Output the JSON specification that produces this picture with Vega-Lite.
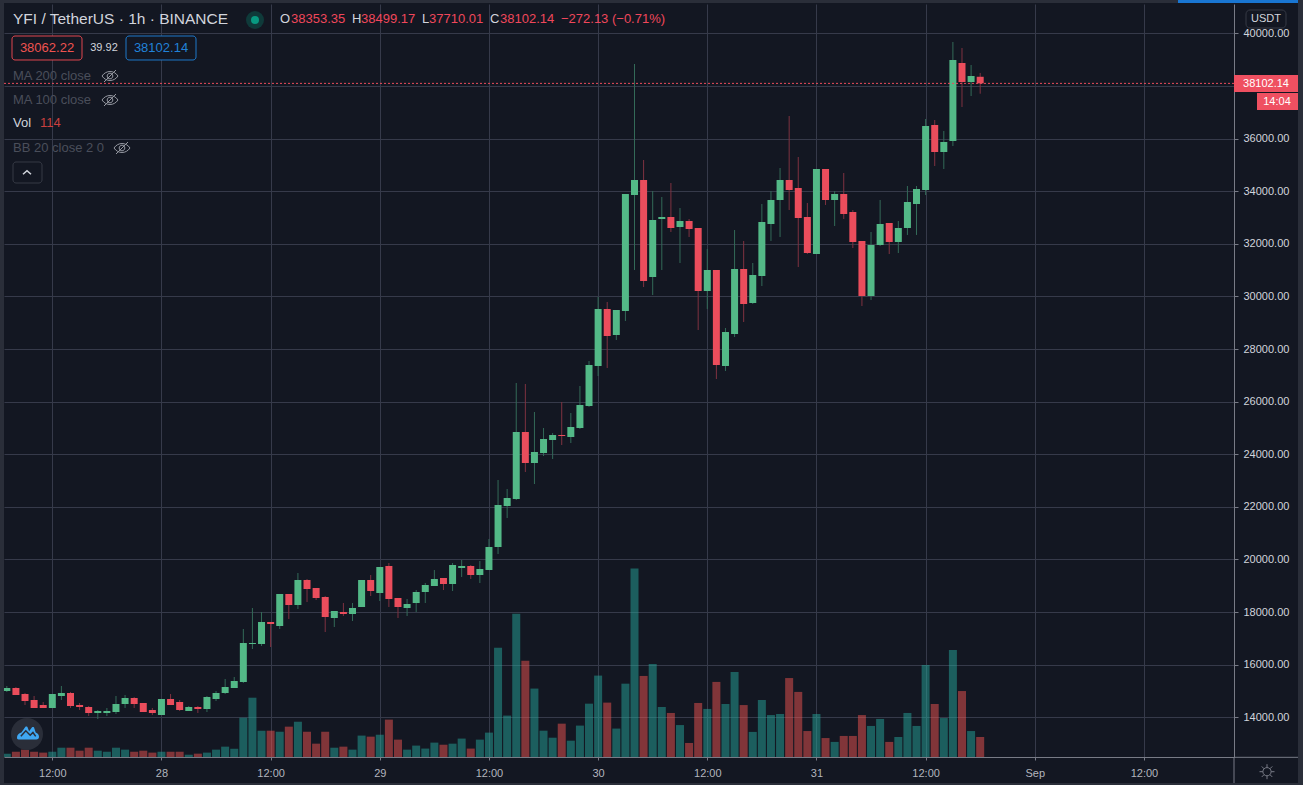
{
  "$schema": "https://vega.github.io/schema/vega-lite/v6.json",
  "width": 1230,
  "height": 753,
  "autosize": {"type": "none"},
  "padding": {"left": 4, "top": 4, "right": 69, "bottom": 28},
  "background": "#131722",
  "config": {
    "view": {"stroke": null},
    "text": {"font": "Liberation Sans"},
    "axis": {"labelFont": "Liberation Sans"}
  },
  "datasets": {
    "candles": [
      {"t":"2020-08-27T07:00:00Z","o":15000,"h":15190,"l":14962,"c":15114,"v":19},
      {"t":"2020-08-27T08:00:00Z","o":15114,"h":15152,"l":14848,"c":14848,"v":30},
      {"t":"2020-08-27T09:00:00Z","o":14886,"h":14924,"l":14468,"c":14620,"v":42},
      {"t":"2020-08-27T10:00:00Z","o":14658,"h":14810,"l":14354,"c":14354,"v":30},
      {"t":"2020-08-27T11:00:00Z","o":14468,"h":14582,"l":14354,"c":14354,"v":25},
      {"t":"2020-08-27T12:00:00Z","o":14354,"h":14886,"l":14354,"c":14886,"v":30},
      {"t":"2020-08-27T13:00:00Z","o":14810,"h":15190,"l":14658,"c":14924,"v":53},
      {"t":"2020-08-27T14:00:00Z","o":14924,"h":14962,"l":14354,"c":14430,"v":53},
      {"t":"2020-08-27T15:00:00Z","o":14468,"h":14544,"l":14278,"c":14392,"v":36},
      {"t":"2020-08-27T16:00:00Z","o":14392,"h":14430,"l":14050,"c":14164,"v":53},
      {"t":"2020-08-27T17:00:00Z","o":14164,"h":14278,"l":13936,"c":14240,"v":36},
      {"t":"2020-08-27T18:00:00Z","o":14164,"h":14354,"l":14050,"c":14240,"v":30},
      {"t":"2020-08-27T19:00:00Z","o":14202,"h":14810,"l":14126,"c":14506,"v":53},
      {"t":"2020-08-27T20:00:00Z","o":14506,"h":14848,"l":14354,"c":14734,"v":42},
      {"t":"2020-08-27T21:00:00Z","o":14734,"h":14772,"l":14354,"c":14506,"v":30},
      {"t":"2020-08-27T22:00:00Z","o":14544,"h":14544,"l":14202,"c":14202,"v":36},
      {"t":"2020-08-27T23:00:00Z","o":14278,"h":14354,"l":14088,"c":14164,"v":25},
      {"t":"2020-08-28T00:00:00Z","o":14088,"h":14696,"l":14088,"c":14696,"v":30},
      {"t":"2020-08-28T01:00:00Z","o":14696,"h":14886,"l":14468,"c":14468,"v":30},
      {"t":"2020-08-28T02:00:00Z","o":14582,"h":14658,"l":14240,"c":14278,"v":30},
      {"t":"2020-08-28T03:00:00Z","o":14240,"h":14430,"l":14240,"c":14392,"v":13},
      {"t":"2020-08-28T04:00:00Z","o":14392,"h":14430,"l":14164,"c":14316,"v":19},
      {"t":"2020-08-28T05:00:00Z","o":14316,"h":14810,"l":14202,"c":14772,"v":25},
      {"t":"2020-08-28T06:00:00Z","o":14696,"h":15000,"l":14620,"c":14924,"v":42},
      {"t":"2020-08-28T07:00:00Z","o":14924,"h":15456,"l":14886,"c":15152,"v":59},
      {"t":"2020-08-28T08:00:00Z","o":15114,"h":15532,"l":15114,"c":15380,"v":47},
      {"t":"2020-08-28T09:00:00Z","o":15342,"h":17357,"l":15304,"c":16825,"v":224},
      {"t":"2020-08-28T10:00:00Z","o":16787,"h":18156,"l":16597,"c":16825,"v":338},
      {"t":"2020-08-28T11:00:00Z","o":16787,"h":18004,"l":16711,"c":17624,"v":150},
      {"t":"2020-08-28T12:00:00Z","o":17624,"h":17624,"l":16673,"c":17548,"v":150},
      {"t":"2020-08-28T13:00:00Z","o":17471,"h":18688,"l":17357,"c":18688,"v":144},
      {"t":"2020-08-28T14:00:00Z","o":18688,"h":18688,"l":17738,"c":18270,"v":173},
      {"t":"2020-08-28T15:00:00Z","o":18270,"h":19487,"l":18118,"c":19220,"v":201},
      {"t":"2020-08-28T16:00:00Z","o":19220,"h":19258,"l":18384,"c":18878,"v":144},
      {"t":"2020-08-28T17:00:00Z","o":18916,"h":18916,"l":18460,"c":18536,"v":76},
      {"t":"2020-08-28T18:00:00Z","o":18574,"h":18612,"l":17243,"c":17814,"v":144},
      {"t":"2020-08-28T19:00:00Z","o":17776,"h":18042,"l":17433,"c":18042,"v":53},
      {"t":"2020-08-28T20:00:00Z","o":18004,"h":18346,"l":17852,"c":17928,"v":59},
      {"t":"2020-08-28T21:00:00Z","o":17928,"h":18346,"l":17662,"c":18156,"v":42},
      {"t":"2020-08-28T22:00:00Z","o":18194,"h":19220,"l":18194,"c":19220,"v":122},
      {"t":"2020-08-28T23:00:00Z","o":19220,"h":19411,"l":18612,"c":18802,"v":116},
      {"t":"2020-08-29T00:00:00Z","o":18726,"h":19715,"l":18422,"c":19715,"v":127},
      {"t":"2020-08-29T01:00:00Z","o":19753,"h":19867,"l":18194,"c":18498,"v":213},
      {"t":"2020-08-29T02:00:00Z","o":18536,"h":18536,"l":17776,"c":18194,"v":99},
      {"t":"2020-08-29T03:00:00Z","o":18156,"h":18498,"l":17852,"c":18308,"v":42},
      {"t":"2020-08-29T04:00:00Z","o":18346,"h":18840,"l":18004,"c":18764,"v":65},
      {"t":"2020-08-29T05:00:00Z","o":18764,"h":19106,"l":18346,"c":19030,"v":48},
      {"t":"2020-08-29T06:00:00Z","o":18992,"h":19601,"l":18992,"c":19258,"v":82},
      {"t":"2020-08-29T07:00:00Z","o":19296,"h":19296,"l":18840,"c":19068,"v":70},
      {"t":"2020-08-29T08:00:00Z","o":19068,"h":19867,"l":18802,"c":19791,"v":76},
      {"t":"2020-08-29T09:00:00Z","o":19677,"h":19981,"l":19335,"c":19753,"v":105},
      {"t":"2020-08-29T10:00:00Z","o":19753,"h":19791,"l":19258,"c":19411,"v":48},
      {"t":"2020-08-29T11:00:00Z","o":19411,"h":19943,"l":19106,"c":19639,"v":99},
      {"t":"2020-08-29T12:00:00Z","o":19601,"h":20779,"l":19601,"c":20475,"v":139},
      {"t":"2020-08-29T13:00:00Z","o":20475,"h":23022,"l":20209,"c":22072,"v":623},
      {"t":"2020-08-29T14:00:00Z","o":22034,"h":22680,"l":21578,"c":22338,"v":236},
      {"t":"2020-08-29T15:00:00Z","o":22300,"h":26710,"l":22262,"c":24847,"v":817},
      {"t":"2020-08-29T16:00:00Z","o":24847,"h":26672,"l":23327,"c":23669,"v":549},
      {"t":"2020-08-29T17:00:00Z","o":23669,"h":25608,"l":22870,"c":24087,"v":390},
      {"t":"2020-08-29T18:00:00Z","o":24049,"h":24999,"l":23935,"c":24581,"v":150},
      {"t":"2020-08-29T19:00:00Z","o":24543,"h":24809,"l":23821,"c":24733,"v":110},
      {"t":"2020-08-29T20:00:00Z","o":24733,"h":25988,"l":24353,"c":24695,"v":190},
      {"t":"2020-08-29T21:00:00Z","o":24657,"h":25570,"l":24429,"c":25037,"v":93},
      {"t":"2020-08-29T22:00:00Z","o":24999,"h":26596,"l":24961,"c":25874,"v":179},
      {"t":"2020-08-29T23:00:00Z","o":25836,"h":27547,"l":25798,"c":27395,"v":304},
      {"t":"2020-08-30T00:00:00Z","o":27357,"h":29980,"l":26976,"c":29524,"v":464},
      {"t":"2020-08-30T01:00:00Z","o":29524,"h":29790,"l":27281,"c":28497,"v":310},
      {"t":"2020-08-30T02:00:00Z","o":28535,"h":29486,"l":28345,"c":29486,"v":162},
      {"t":"2020-08-30T03:00:00Z","o":29448,"h":33896,"l":29068,"c":33896,"v":418},
      {"t":"2020-08-30T04:00:00Z","o":33858,"h":38839,"l":31007,"c":34428,"v":1074},
      {"t":"2020-08-30T05:00:00Z","o":34428,"h":35189,"l":30360,"c":30588,"v":462},
      {"t":"2020-08-30T06:00:00Z","o":30740,"h":34010,"l":30056,"c":32908,"v":530},
      {"t":"2020-08-30T07:00:00Z","o":32946,"h":33782,"l":31007,"c":33022,"v":285},
      {"t":"2020-08-30T08:00:00Z","o":33022,"h":34314,"l":32452,"c":32604,"v":251},
      {"t":"2020-08-30T09:00:00Z","o":32642,"h":33364,"l":31273,"c":32870,"v":182},
      {"t":"2020-08-30T10:00:00Z","o":32870,"h":32946,"l":32262,"c":32566,"v":80},
      {"t":"2020-08-30T11:00:00Z","o":32604,"h":32604,"l":28725,"c":30208,"v":308},
      {"t":"2020-08-30T12:00:00Z","o":30208,"h":31805,"l":29524,"c":31007,"v":274},
      {"t":"2020-08-30T13:00:00Z","o":31007,"h":31007,"l":26862,"c":27395,"v":428},
      {"t":"2020-08-30T14:00:00Z","o":27357,"h":28801,"l":27167,"c":28649,"v":302},
      {"t":"2020-08-30T15:00:00Z","o":28573,"h":32528,"l":28459,"c":31045,"v":485},
      {"t":"2020-08-30T16:00:00Z","o":31045,"h":32110,"l":29030,"c":29714,"v":296},
      {"t":"2020-08-30T17:00:00Z","o":29752,"h":31273,"l":29714,"c":30817,"v":143},
      {"t":"2020-08-30T18:00:00Z","o":30779,"h":33516,"l":30398,"c":32832,"v":325},
      {"t":"2020-08-30T19:00:00Z","o":32756,"h":34010,"l":32110,"c":33668,"v":239},
      {"t":"2020-08-30T20:00:00Z","o":33668,"h":34885,"l":32262,"c":34428,"v":245},
      {"t":"2020-08-30T21:00:00Z","o":34428,"h":36862,"l":33288,"c":34048,"v":450},
      {"t":"2020-08-30T22:00:00Z","o":34124,"h":35303,"l":31121,"c":32984,"v":371},
      {"t":"2020-08-30T23:00:00Z","o":33022,"h":33554,"l":31615,"c":31653,"v":148},
      {"t":"2020-08-31T00:00:00Z","o":31615,"h":34847,"l":31615,"c":34847,"v":245},
      {"t":"2020-08-31T01:00:00Z","o":34847,"h":34847,"l":33478,"c":33668,"v":108},
      {"t":"2020-08-31T02:00:00Z","o":33668,"h":34010,"l":32680,"c":33896,"v":86},
      {"t":"2020-08-31T03:00:00Z","o":33896,"h":34695,"l":32946,"c":33136,"v":120},
      {"t":"2020-08-31T04:00:00Z","o":33212,"h":33288,"l":31843,"c":32071,"v":120},
      {"t":"2020-08-31T05:00:00Z","o":32110,"h":32110,"l":29638,"c":30018,"v":239},
      {"t":"2020-08-31T06:00:00Z","o":30018,"h":32452,"l":29866,"c":31957,"v":177},
      {"t":"2020-08-31T07:00:00Z","o":31957,"h":33668,"l":31919,"c":32756,"v":217},
      {"t":"2020-08-31T08:00:00Z","o":32794,"h":32794,"l":31615,"c":32072,"v":86},
      {"t":"2020-08-31T09:00:00Z","o":32072,"h":32870,"l":31653,"c":32604,"v":114},
      {"t":"2020-08-31T10:00:00Z","o":32604,"h":34200,"l":32338,"c":33592,"v":251},
      {"t":"2020-08-31T11:00:00Z","o":33516,"h":34200,"l":32338,"c":34086,"v":177},
      {"t":"2020-08-31T12:00:00Z","o":34048,"h":36748,"l":33858,"c":36481,"v":524},
      {"t":"2020-08-31T13:00:00Z","o":36519,"h":36710,"l":34961,"c":35493,"v":302},
      {"t":"2020-08-31T14:00:00Z","o":35493,"h":36291,"l":34847,"c":35873,"v":222},
      {"t":"2020-08-31T15:00:00Z","o":35911,"h":39675,"l":35721,"c":38991,"v":610},
      {"t":"2020-08-31T16:00:00Z","o":38877,"h":39447,"l":37204,"c":38154,"v":376},
      {"t":"2020-08-31T17:00:00Z","o":38154,"h":38800,"l":37622,"c":38382,"v":148},
      {"t":"2020-08-31T18:00:00Z","o":38353.35,"h":38499.17,"l":37710.01,"c":38102.14,"v":114}
    ]
  },
  "layer": [
    {
      "data": {"name": "candles"},
      "mark": {"type": "bar", "width": 8, "opacity": 0.5},
      "encoding": {
        "x": {
          "field": "t",
          "type": "temporal",
          "title": null,
          "scale": {"type": "utc", "domain": [1598510486000, 1598997240050], "nice": false, "padding": 0},
          "axis": {
            "values": [1598529600000, 1598572800000, 1598616000000, 1598659200000, 1598702400000, 1598745600000, 1598788800000, 1598832000000, 1598875200000, 1598918400000, 1598961600000],
            "labelExpr": "utchours(datum.value) == 12 ? '12:00' : (utcdate(datum.value) == 1 ? 'Sep' : '' + utcdate(datum.value))",
            "grid": true,
            "gridColor": "#363a4a",
            "domainColor": "#787b86",
            "tickColor": "#787b86",
            "tickSize": 3,
            "labelColor": "#b2b5be",
            "labelFontSize": 11,
            "labelPadding": 7,
            "labelAngle": 0,
            "labelFlush": false,
            "labelOverlap": false
          }
        },
        "y": {
          "field": "v",
          "type": "quantitative",
          "scale": {"domain": [0, 4292], "nice": false, "zero": false},
          "axis": null
        },
        "color": {"condition": {"test": "datum.c >= datum.o", "value": "#26a69a"}, "value": "#ef5350"}
      }
    },
    {
      "layer": [
        {
          "data": {"name": "candles"},
          "mark": {"type": "rule", "strokeWidth": 1},
          "encoding": {
            "x": {"field": "t", "type": "temporal", "title": null},
            "y": {
              "field": "l",
              "type": "quantitative",
              "title": null,
              "scale": {"domain": [12491, 41120], "nice": false, "zero": false},
              "axis": {
                "orient": "right",
                "values": [14000, 16000, 18000, 20000, 22000, 24000, 26000, 28000, 30000, 32000, 34000, 36000, 38000, 40000],
                "labelExpr": "datum.value == 38000 ? '' : format(datum.value, '.2f')",
                "grid": true,
                "gridColor": "#363a4a",
                "domainColor": "#787b86",
                "tickColor": "#787b86",
                "tickSize": 4,
                "labelColor": "#d1d4dc",
                "labelFontSize": 11,
                "labelPadding": 5
              }
            },
            "y2": {"field": "h"},
            "color": {"condition": {"test": "datum.c >= datum.o", "value": "#336a58"}, "value": "#7f3240"}
          }
        },
        {
          "data": {"name": "candles"},
          "mark": {"type": "bar", "width": 7},
          "encoding": {
            "x": {"field": "t", "type": "temporal", "title": null},
            "y": {"field": "o", "type": "quantitative", "title": null},
            "y2": {"field": "c"},
            "color": {"condition": {"test": "datum.c >= datum.o", "value": "#53b987"}, "value": "#eb4d5c"}
          }
        },
        {
          "data": {"values": [{"n": 1}]},
          "layer": [
            {"mark": {"type": "rule", "stroke": "#eb4d5c", "strokeWidth": 1, "strokeDash": [2, 2]}, "encoding": {"x": {"datum": 1598510486000, "type": "temporal"}, "x2": {"datum": 1598997240050}, "y": {"datum": 38102.14}}},
            {"mark": {"type": "text", "text": "YFI / TetherUS \u00b7 1h \u00b7 BINANCE", "align": "left", "color": "#d1d4dc", "fontSize": 15.5}, "encoding": {"x": {"datum": 1598514047615, "type": "temporal"}, "y": {"datum": 40531}}},
            {"mark": {"type": "point", "filled": true, "shape": "circle", "size": 324, "color": "#0f3a3a", "opacity": 1}, "encoding": {"x": {"datum": 1598609815485, "type": "temporal"}, "y": {"datum": 40512}}},
            {"mark": {"type": "point", "filled": true, "shape": "circle", "size": 64, "color": "#089981", "opacity": 1}, "encoding": {"x": {"datum": 1598609815485, "type": "temporal"}, "y": {"datum": 40512}}},
            {"mark": {"type": "text", "text": "O", "align": "left", "color": "#d1d4dc", "fontSize": 13}, "encoding": {"x": {"datum": 1598619708860, "type": "temporal"}, "y": {"datum": 40531}}},
            {"mark": {"type": "text", "text": "38353.35", "align": "left", "color": "#f0475b", "fontSize": 13}, "encoding": {"x": {"datum": 1598624061945, "type": "temporal"}, "y": {"datum": 40531}}},
            {"mark": {"type": "text", "text": "H", "align": "left", "color": "#d1d4dc", "fontSize": 13}, "encoding": {"x": {"datum": 1598648201780, "type": "temporal"}, "y": {"datum": 40531}}},
            {"mark": {"type": "text", "text": "38499.17", "align": "left", "color": "#f0475b", "fontSize": 13}, "encoding": {"x": {"datum": 1598651763395, "type": "temporal"}, "y": {"datum": 40531}}},
            {"mark": {"type": "text", "text": "L", "align": "left", "color": "#d1d4dc", "fontSize": 13}, "encoding": {"x": {"datum": 1598675903230, "type": "temporal"}, "y": {"datum": 40531}}},
            {"mark": {"type": "text", "text": "37710.01", "align": "left", "color": "#f0475b", "fontSize": 13}, "encoding": {"x": {"datum": 1598678673375, "type": "temporal"}, "y": {"datum": 40531}}},
            {"mark": {"type": "text", "text": "C", "align": "left", "color": "#d1d4dc", "fontSize": 13}, "encoding": {"x": {"datum": 1598702813210, "type": "temporal"}, "y": {"datum": 40531}}},
            {"mark": {"type": "text", "text": "38102.14", "align": "left", "color": "#f0475b", "fontSize": 13}, "encoding": {"x": {"datum": 1598706770560, "type": "temporal"}, "y": {"datum": 40531}}},
            {"mark": {"type": "text", "text": "\u2212272.13 (\u22120.71%)", "align": "left", "color": "#f0475b", "fontSize": 13}, "encoding": {"x": {"datum": 1598730910395, "type": "temporal"}, "y": {"datum": 40531}}},
            {"mark": {"type": "rect", "fill": "#131722", "stroke": "#e0474f", "strokeWidth": 1, "cornerRadius": 3}, "encoding": {"x": {"datum": 1598513651880, "type": "temporal"}, "x2": {"datum": 1598541353330}, "y": {"datum": 39903}, "y2": {"datum": 38991}}},
            {"mark": {"type": "text", "text": "38062.22", "align": "center", "color": "#ef5350", "fontSize": 13}, "encoding": {"x": {"datum": 1598527502605, "type": "temporal"}, "y": {"datum": 39466}}},
            {"mark": {"type": "text", "text": "39.92", "align": "center", "color": "#d1d4dc", "fontSize": 11}, "encoding": {"x": {"datum": 1598550059500, "type": "temporal"}, "y": {"datum": 39466}}},
            {"mark": {"type": "rect", "fill": "#131722", "stroke": "#1e78c8", "strokeWidth": 1, "cornerRadius": 3}, "encoding": {"x": {"datum": 1598558765670, "type": "temporal"}, "x2": {"datum": 1598586467120}, "y": {"datum": 39903}, "y2": {"datum": 38991}}},
            {"mark": {"type": "text", "text": "38102.14", "align": "center", "color": "#2182d8", "fontSize": 13}, "encoding": {"x": {"datum": 1598572616395, "type": "temporal"}, "y": {"datum": 39466}}},
            {"mark": {"type": "text", "text": "MA 200 close", "align": "left", "color": "#4a4e5a", "fontSize": 13}, "encoding": {"x": {"datum": 1598514047615, "type": "temporal"}, "y": {"datum": 38382}}},
            {"mark": {"type": "text", "text": "MA 100 close", "align": "left", "color": "#4a4e5a", "fontSize": 13}, "encoding": {"x": {"datum": 1598514047615, "type": "temporal"}, "y": {"datum": 37470}}},
            {"mark": {"type": "text", "text": "Vol", "align": "left", "color": "#d1d4dc", "fontSize": 13}, "encoding": {"x": {"datum": 1598514047615, "type": "temporal"}, "y": {"datum": 36596}}},
            {"mark": {"type": "text", "text": "114", "align": "left", "color": "#c9403f", "fontSize": 13}, "encoding": {"x": {"datum": 1598524732460, "type": "temporal"}, "y": {"datum": 36596}}},
            {"mark": {"type": "text", "text": "BB 20 close 2 0", "align": "left", "color": "#4a4e5a", "fontSize": 13}, "encoding": {"x": {"datum": 1598514047615, "type": "temporal"}, "y": {"datum": 35645}}},
            {"mark": {"type": "point", "filled": false, "size": 256, "opacity": 1, "stroke": "#9598a1", "strokeWidth": 1, "shape": "M-1,0 C-0.5,-0.75 0.5,-0.75 1,0 C0.5,0.75 -0.5,0.75 -1,0 Z M-0.35,0 A0.35,0.35 0 1 1 0.35,0 A0.35,0.35 0 1 1 -0.35,0 Z M-0.75,0.75 L0.75,-0.75"}, "encoding": {"x": {"datum": 1598552433910, "type": "temporal"}, "y": {"datum": 38382}}},
            {"mark": {"type": "point", "filled": false, "size": 256, "opacity": 1, "stroke": "#9598a1", "strokeWidth": 1, "shape": "M-1,0 C-0.5,-0.75 0.5,-0.75 1,0 C0.5,0.75 -0.5,0.75 -1,0 Z M-0.35,0 A0.35,0.35 0 1 1 0.35,0 A0.35,0.35 0 1 1 -0.35,0 Z M-0.75,0.75 L0.75,-0.75"}, "encoding": {"x": {"datum": 1598552433910, "type": "temporal"}, "y": {"datum": 37470}}},
            {"mark": {"type": "point", "filled": false, "size": 256, "opacity": 1, "stroke": "#9598a1", "strokeWidth": 1, "shape": "M-1,0 C-0.5,-0.75 0.5,-0.75 1,0 C0.5,0.75 -0.5,0.75 -1,0 Z M-0.35,0 A0.35,0.35 0 1 1 0.35,0 A0.35,0.35 0 1 1 -0.35,0 Z M-0.75,0.75 L0.75,-0.75"}, "encoding": {"x": {"datum": 1598557182730, "type": "temporal"}, "y": {"datum": 35645}}},
            {"mark": {"type": "rect", "fill": "#131722", "stroke": "#363a45", "strokeWidth": 1, "cornerRadius": 3}, "encoding": {"x": {"datum": 1598514047615, "type": "temporal"}, "x2": {"datum": 1598525523930}, "y": {"datum": 35113}, "y2": {"datum": 34314}}},
            {"mark": {"type": "point", "filled": false, "size": 64, "opacity": 1, "stroke": "#d1d4dc", "strokeWidth": 1.5, "shape": "M-1,0.45 L0,-0.45 L1,0.45"}, "encoding": {"x": {"datum": 1598519587905, "type": "temporal"}, "y": {"datum": 34714}}},
            {"mark": {"type": "point", "filled": true, "shape": "circle", "size": 1024, "color": "#2a2e39", "opacity": 1}, "encoding": {"x": {"datum": 1598519587905, "type": "temporal"}, "y": {"datum": 13365}}},
            {"mark": {"type": "point", "filled": true, "size": 484, "color": "#3fa7f2", "opacity": 1, "shape": "M-1,0.45 C-1,0.1 -0.75,0 -0.6,-0.05 L-0.25,-0.55 C-0.2,-0.6 -0.1,-0.6 -0.05,-0.55 L0.1,-0.15 L0.35,-0.5 C0.4,-0.55 0.5,-0.55 0.55,-0.5 L0.7,-0.05 C0.9,0 1,0.2 1,0.35 C1,0.5 0.9,0.6 0.75,0.6 L-0.75,0.6 C-0.9,0.6 -1,0.55 -1,0.45 Z"}, "encoding": {"x": {"datum": 1598519983640, "type": "temporal"}, "y": {"datum": 13403}}},
            {"mark": {"type": "point", "filled": false, "size": 484, "opacity": 1, "stroke": "#2a2e39", "strokeWidth": 1.5, "shape": "M-0.65,0.3 L-0.2,-0.2 L0.2,0.2 L0.45,-0.05 L0.7,0.3"}, "encoding": {"x": {"datum": 1598519983640, "type": "temporal"}, "y": {"datum": 13403}}},
            {"mark": {"type": "rule", "stroke": "#787b86", "strokeWidth": 1}, "encoding": {"x": {"datum": 1598997240050, "type": "temporal"}, "y": {"datum": 12479}, "y2": {"datum": 11502}}},
            {"mark": {"type": "rule", "stroke": "#787b86", "strokeWidth": 1}, "encoding": {"x": {"datum": 1598997240050, "type": "temporal"}, "x2": {"datum": 1599022567090}, "y": {"datum": 12479}}},
            {"mark": {"type": "rect", "fill": "#131722", "stroke": "#363a45", "strokeWidth": 1, "cornerRadius": 4}, "encoding": {"x": {"datum": 1599001988870, "type": "temporal"}, "x2": {"datum": 1599017818270}, "y": {"datum": 40892}, "y2": {"datum": 40207}}},
            {"mark": {"type": "text", "text": "USDT", "align": "center", "color": "#d1d4dc", "fontSize": 11}, "encoding": {"x": {"datum": 1599009903570, "type": "temporal"}, "y": {"datum": 40550}}},
            {"mark": {"type": "rect", "fill": "#ef5061"}, "encoding": {"x": {"datum": 1598997240050, "type": "temporal"}, "x2": {"datum": 1599022567090}, "y": {"datum": 38420}, "y2": {"datum": 37774}}},
            {"mark": {"type": "text", "text": "38102.14", "align": "center", "color": "#ffffff", "fontSize": 11}, "encoding": {"x": {"datum": 1599009903570, "type": "temporal"}, "y": {"datum": 38097}}},
            {"mark": {"type": "rect", "fill": "#ef5061"}, "encoding": {"x": {"datum": 1599006341955, "type": "temporal"}, "x2": {"datum": 1599022567090}, "y": {"datum": 37736}, "y2": {"datum": 37090}}},
            {"mark": {"type": "text", "text": "14:04", "align": "center", "color": "#ffffff", "fontSize": 11}, "encoding": {"x": {"datum": 1599014256655, "type": "temporal"}, "y": {"datum": 37413}}},
            {"mark": {"type": "point", "filled": false, "size": 225, "opacity": 1, "stroke": "#787b86", "strokeWidth": 1, "shape": "M0.55,0 A0.55,0.55 0 1 1 -0.55,0 A0.55,0.55 0 1 1 0.55,0 Z M0,-1 L0,-0.55 M0,1 L0,0.55 M-1,0 L-0.55,0 M1,0 L0.55,0 M-0.7,-0.7 L-0.39,-0.39 M0.7,0.7 L0.39,0.39 M-0.7,0.7 L-0.39,0.39 M0.7,-0.7 L0.39,-0.39"}, "encoding": {"x": {"datum": 1599010299305, "type": "temporal"}, "y": {"datum": 11932}}},
            {"mark": {"type": "rect", "fill": "#2a2e39"}, "encoding": {"x": {"datum": 1598508903060, "type": "temporal"}, "x2": {"datum": 1598510486000}, "y": {"datum": 41272}, "y2": {"datum": 11426}}},
            {"mark": {"type": "rect", "fill": "#2a2e39"}, "encoding": {"x": {"datum": 1599022567090, "type": "temporal"}, "x2": {"datum": 1599024545765}, "y": {"datum": 41272}, "y2": {"datum": 11426}}},
            {"mark": {"type": "rect", "fill": "#2a2e39"}, "encoding": {"x": {"datum": 1598508903060, "type": "temporal"}, "x2": {"datum": 1599024545765}, "y": {"datum": 41272}, "y2": {"datum": 41158}}},
            {"mark": {"type": "rect", "fill": "#2a2e39"}, "encoding": {"x": {"datum": 1598508903060, "type": "temporal"}, "x2": {"datum": 1599024545765}, "y": {"datum": 11502}, "y2": {"datum": 11426}}},
            {"mark": {"type": "rect", "fill": "#1976d2"}, "encoding": {"x": {"datum": 1598975078890, "type": "temporal"}, "x2": {"datum": 1599022567090}, "y": {"datum": 41272}, "y2": {"datum": 41158}}}
          ]
        }
      ]
    }
  ],
  "resolve": {"scale": {"y": "independent"}}
}
